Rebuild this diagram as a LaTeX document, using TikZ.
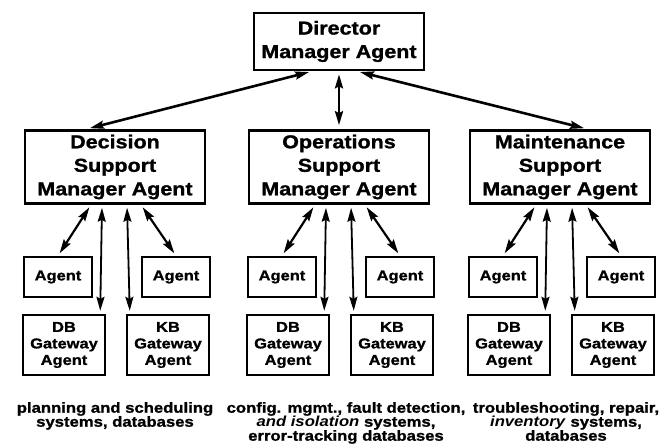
\documentclass[tikz,border=0pt]{standalone}
\usepackage{fontspec}
\setmainfont{Liberation Sans}[FakeStretch=1.15,BoldFeatures={FakeBold=1.2}]
\usepackage{tikz}
\usetikzlibrary{positioning}
\usetikzlibrary{arrows.meta}

\tikzset{
  manager/.style={draw,line width=2.6pt,minimum width=180pt,minimum height=73pt,
    align=center,inner sep=0pt,font=\fontsize{18.7}{23.5}\selectfont\bfseries},
  worker/.style={draw,line width=2.4pt,minimum width=68pt,minimum height=40pt,
    inner sep=0pt,font=\fontsize{14.3}{16.5}\selectfont\bfseries},
  gateway/.style={worker,minimum width=82pt,minimum height=60pt,align=center},
  note/.style={anchor=north,align=center,inner sep=0pt,
    font=\fontsize{14.5}{14}\selectfont\bfseries},
  link/.style={<->,line width=2.2pt,shorten >=3pt,shorten <=3pt},
}

\begin{document}
\begin{tikzpicture}[>={Stealth[length=14pt,width=8pt,inset=2pt]},x=1pt,y=1pt,node distance=125.5pt]
  \useasboundingbox (0,0) rectangle (670,-446);

  \node[manager,minimum width=170pt,minimum height=57pt] (Director) at (339,-41.5) {Director\\Manager Agent};
  \node[manager] (Operations)  [below of=Director]                       {Operations\\Support\\Manager Agent};
  \node[manager] (Decision)    [left of=Operations,node distance=224pt]  {Decision\\Support\\Manager Agent};
  \node[manager] (Maintenance) [right of=Operations,node distance=221pt] {Maintenance\\Support\\Manager Agent};

  % decision support
  \node[worker]  (DecAgentL) [below of=Decision,node distance=110pt,xshift=-57pt] {Agent};
  \node[worker]  (DecAgentR) [below of=Decision,node distance=110pt,xshift=61pt]  {Agent};
  \node[gateway] (DecDB)     [below of=Decision,node distance=178pt,xshift=-51pt] {DB\\Gateway\\Agent};
  \node[gateway] (DecKB)     [below of=Decision,node distance=178pt,xshift=53pt]  {KB\\Gateway\\Agent};

  % operations support
  \node[worker]  (OpsAgentL) [below of=Operations,node distance=110pt,xshift=-57pt] {Agent};
  \node[worker]  (OpsAgentR) [below of=Operations,node distance=110pt,xshift=61pt]  {Agent};
  \node[gateway] (OpsDB)     [below of=Operations,node distance=178pt,xshift=-51pt] {DB\\Gateway\\Agent};
  \node[gateway] (OpsKB)     [below of=Operations,node distance=178pt,xshift=53pt]  {KB\\Gateway\\Agent};

  % maintenance support
  \node[worker]  (MntAgentL) [below of=Maintenance,node distance=110pt,xshift=-57pt] {Agent};
  \node[worker]  (MntAgentR) [below of=Maintenance,node distance=110pt,xshift=61pt]  {Agent};
  \node[gateway] (MntDB)     [below of=Maintenance,node distance=178pt,xshift=-51pt] {DB\\Gateway\\Agent};
  \node[gateway] (MntKB)     [below of=Maintenance,node distance=178pt,xshift=53pt]  {KB\\Gateway\\Agent};

  \node[note] (DecNote) at (115,-402) {planning and scheduling\\systems, databases};
  \node[note] (OpsNote) at (346,-402) {config. mgmt., fault detection,\\\textit{and isolation} systems,\\error-tracking databases};
  \node[note] (MntNote) at (566,-402) {troubleshooting, repair,\\\textit{inventory} systems,\\databases};

  \path[link,line width=2.6pt,shorten >=4pt]
    ([xshift=-27pt]Director.south) edge ([xshift=-29pt]Decision.north)
    (Director.south)               edge (Director.south |- Operations.north)
    ([xshift=18pt]Director.south)  edge ([xshift=28pt]Maintenance.north);

  \path[link]
    ([xshift=-24pt]Decision.south)    edge                    (DecAgentL.north)
    ([xshift=-13pt]Decision.south)    edge [line width=1.8pt] ([xshift=-6pt]DecDB.north east)
    ([xshift=12pt]Decision.south)     edge [line width=1.8pt] ([xshift=4pt]DecKB.north west)
    ([xshift=26pt]Decision.south)     edge                    (DecAgentR.north)
    ([xshift=-24pt]Operations.south)  edge                    (OpsAgentL.north)
    ([xshift=-13pt]Operations.south)  edge [line width=1.8pt] ([xshift=-6pt]OpsDB.north east)
    ([xshift=12pt]Operations.south)   edge [line width=1.8pt] ([xshift=4pt]OpsKB.north west)
    ([xshift=26pt]Operations.south)   edge                    (OpsAgentR.north)
    ([xshift=-24pt]Maintenance.south) edge                    (MntAgentL.north)
    ([xshift=-13pt]Maintenance.south) edge [line width=1.8pt] ([xshift=-6pt]MntDB.north east)
    ([xshift=12pt]Maintenance.south)  edge [line width=1.8pt] ([xshift=4pt]MntKB.north west)
    ([xshift=26pt]Maintenance.south)  edge                    (MntAgentR.north);
\end{tikzpicture}
\end{document}
